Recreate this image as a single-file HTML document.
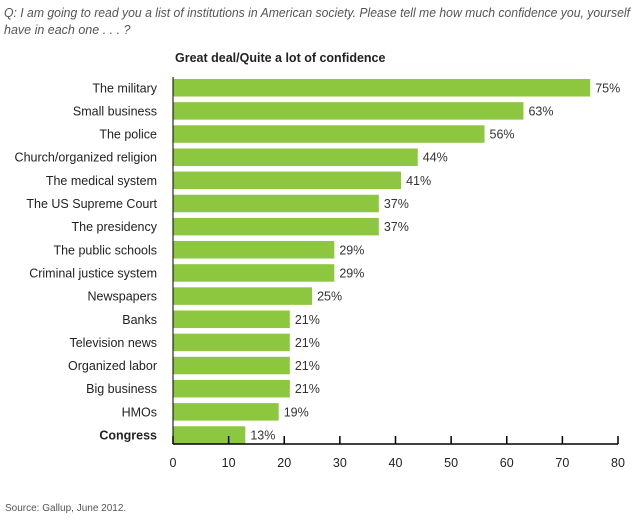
<!DOCTYPE html>
<html><head><meta charset="utf-8"><style>
body{margin:0;background:#fff;width:640px;height:517px;overflow:hidden;font-family:"Liberation Sans",sans-serif}
</style></head><body>
<svg width="640" height="517">
<text x="4" y="17" font-size="12.5" font-style="italic" fill="#555" textLength="626" lengthAdjust="spacingAndGlyphs">Q: I am going to read you a list of institutions in American society. Please tell me how much confidence you, yourself</text>
<text x="4" y="34" font-size="12.5" font-style="italic" fill="#555">have in each one . . . ?</text>
<text x="175" y="62" font-size="12.5" font-weight="bold" fill="#222">Great deal/Quite a lot of confidence</text>
<g id="g"></g>
<text x="5" y="511" font-size="10" fill="#555">Source: Gallup, June 2012.</text>
</svg>
<script>
const categories=["The military","Small business","The police","Church/organized religion","The medical system","The US Supreme Court","The presidency","The public schools","Criminal justice system","Newspapers","Banks","Television news","Organized labor","Big business","HMOs","Congress"];
const values=[75,63,56,44,41,37,37,29,29,25,21,21,21,21,19,13];
const ticks=[0,10,20,30,40,50,60,70,80];
const NS="http://www.w3.org/2000/svg",g=document.getElementById('g');
const x0=173,x1=618,vmax=80,top0=79,step=23.15,bh=17.5,axisY=444;
const xs=v=>x0+(x1-x0)*v/vmax;
const yc=i=>top0+bh/2+i*step;
function el(t,a,txt){const e=document.createElementNS(NS,t);for(const k in a)e.setAttribute(k,a[k]);if(txt!=null)e.textContent=txt;g.appendChild(e);return e;}
categories.forEach((c,i)=>{
 const b=el('rect',{x:xs(0),y:yc(i)-bh/2,width:xs(values[i])-xs(0),height:bh,fill:'#8dc63f'});
 
 
 const l=el('text',{x:157,y:yc(i)+4.5,'font-size':12.5,'text-anchor':'end',fill:'#222','font-weight':c==='Congress'?'bold':'normal'},c);
 
 
 const v=el('text',{x:xs(values[i])+5,y:yc(i)+4.5,'font-size':12.5,fill:'#333'},values[i]+'%');
 
 
});
const ax=el('line',{x1:x0,x2:x1,y1:axisY,y2:axisY,stroke:'#000','stroke-width':1.5});


const ay=el('line',{x1:x0,x2:x0,y1:top0-2,y2:axisY,stroke:'#000','stroke-width':1});


ticks.forEach(t=>{
 const tk=el('line',{x1:xs(t),x2:xs(t),y1:axisY-8,y2:axisY,stroke:'#000','stroke-width':1.5});
 
 
 const tl=el('text',{x:xs(t),y:467,'font-size':12.5,'text-anchor':'middle',fill:'#222'},t);
 
 
});
</script>
</body></html>
